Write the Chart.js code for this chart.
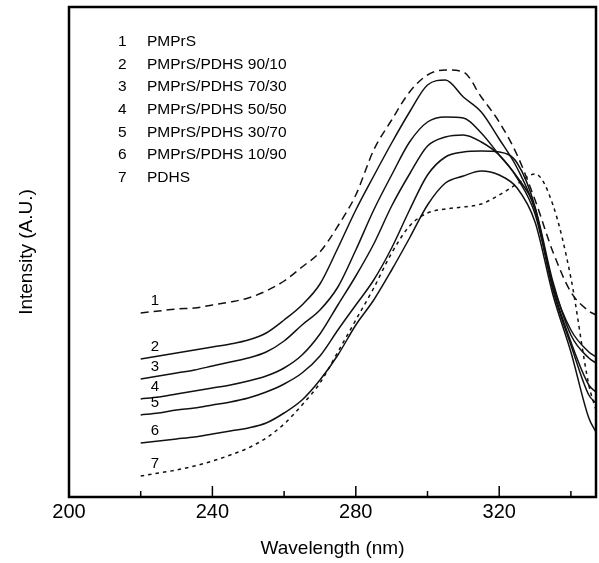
<!DOCTYPE html>
<html>
<head>
<meta charset="utf-8">
<script src="https://cdn.jsdelivr.net/npm/chart.js@4.4.0/dist/chart.umd.min.js"></script>
<style>
    html, body { margin: 0; padding: 0; background: #fff; }
    #wrap { width: 599px; height: 563px; }
</style>
</head>
<body>
<div id="wrap"><canvas id="spectraChart" width="599" height="563"></canvas></div>
<script>
// wavelength (nm) of the sampled points
var wavelengths = [220, 225, 230, 235, 240, 245, 250, 255, 260, 265, 270, 275, 280, 285,
    290, 295, 300, 305, 310, 315, 320, 325, 330, 335, 340, 345, 347];

// intensity (A.U.), one array per sample
var pmprs      = [184, 186, 188, 189, 192, 195, 199, 206, 216, 230, 245, 271, 302, 347, 377, 405, 422, 427, 425, 400, 375, 342, 297, 245, 205, 186, 182];
var blend9010  = [138, 141, 144, 147, 150, 153, 157, 164, 177, 192, 213, 249, 287, 321, 354, 385, 412, 417, 400, 385, 358, 329, 287, 212, 167, 145, 140];
var blend7030  = [118, 121, 124, 127, 131, 135, 139, 145, 156, 172, 187, 210, 247, 287, 322, 355, 375, 380, 379, 364, 342, 320, 289, 215, 162, 139, 134];
var blend5050  = [98, 100, 103, 106, 109, 112, 116, 121, 129, 142, 163, 192, 221, 253, 291, 323, 351, 360, 362, 355, 342, 319, 283, 209, 155, 112, 105];
var blend3070  = [82, 84, 87, 89, 92, 95, 99, 105, 113, 124, 141, 167, 192, 217, 249, 287, 322, 340, 345, 346, 345, 334, 290, 207, 152, 102, 94];
var blend1090  = [54, 56, 58, 60, 63, 66, 69, 74, 84, 97, 117, 142, 172, 197, 227, 259, 292, 314, 321, 326, 322, 309, 275, 202, 145, 79, 65];
var pdhs       = [21, 24, 27, 31, 36, 42, 49, 59, 73, 92, 114, 145, 177, 209, 244, 271, 284, 288, 290, 293, 302, 313, 323, 292, 219, 112, 87];

var curveNumbers = ['1', '2', '3', '4', '5', '6', '7'];
var curveNames = ['PMPrS', 'PMPrS/PDHS 90/10', 'PMPrS/PDHS 70/30', 'PMPrS/PDHS 50/50',
    'PMPrS/PDHS 30/70', 'PMPrS/PDHS 10/90', 'PDHS'];

// x axis ticks
var tickValues = [200, 220, 240, 260, 280, 300, 320, 340];
var tickLabels = ['200', '240', '280', '320'];

var allSeries = [pmprs, blend9010, blend7030, blend5050, blend3070, blend1090, pdhs];
var dashes = [[8, 5], [], [], [], [], [], [3.5, 4]];

function toPoints(values) {
    return values.map(function (v, i) { return { x: wavelengths[i], y: v }; });
}

var datasets = allSeries.map(function (values, i) {
    return {
        label: curveNames[i],
        data: toPoints(values),
        borderColor: '#111',
        borderWidth: 1.5,
        borderDash: dashes[i],
        pointRadius: 0,
        fill: false,
        cubicInterpolationMode: 'monotone'
    };
});

// frame, inward tick marks, numbered legend and curve numbers
var decorations = {
    id: 'decorations',
    afterDraw: function (chart) {
        var ctx = chart.ctx;
        var area = chart.chartArea;
        var xs = chart.scales.x;
        ctx.save();
        ctx.strokeStyle = '#000';

        ctx.lineWidth = 1.5;
        tickValues.forEach(function (v) {
            var px = xs.getPixelForValue(v);
            var len = tickLabels.indexOf(String(v)) >= 0 ? 11 : 6;
            ctx.beginPath();
            ctx.moveTo(px, area.bottom);
            ctx.lineTo(px, area.bottom - len);
            ctx.stroke();
        });

        ctx.lineWidth = 2.5;
        ctx.strokeRect(area.left, area.top, area.right - area.left, area.bottom - area.top);

        ctx.fillStyle = '#000';
        ctx.textBaseline = 'middle';
        ctx.font = '15.5px "Liberation Sans", Arial, sans-serif';
        curveNumbers.forEach(function (n, i) {
            var rowY = 42 + i * 22.6;
            ctx.textAlign = 'left';
            ctx.fillText(n, 118, rowY);
            ctx.fillText(curveNames[i], 147, rowY);
        });

        ctx.font = '15px "Liberation Sans", Arial, sans-serif';
        ctx.textAlign = 'center';
        chart.data.datasets.forEach(function (ds, i) {
            var meta = chart.getDatasetMeta(i);
            var first = meta.data[0];
            ctx.fillText(curveNumbers[i], xs.getPixelForValue(224), first.y - 12);
        });
        ctx.restore();
    }
};

var ctx = document.getElementById('spectraChart').getContext('2d');
var spectraChart = new Chart(ctx, {
    type: 'line',
    data: { datasets: datasets },
    options: {
        responsive: false,
        animation: false,
        layout: { padding: { top: 7, right: 1, left: 0, bottom: 0 } },
        plugins: {
            legend: { display: false },
            tooltip: { enabled: false }
        },
        scales: {
            x: {
                type: 'linear',
                min: 200,
                max: 347,
                grid: { display: false, drawTicks: false },
                border: { display: false },
                ticks: {
                    stepSize: 20,
                    padding: 3,
                    color: '#000',
                    maxRotation: 0,
                    font: { size: 20, family: '"Liberation Sans", Arial, sans-serif' },
                    callback: function (v) {
                        return tickLabels.indexOf(String(v)) >= 0 ? String(v) : '';
                    }
                },
                title: {
                    display: true,
                    text: 'Wavelength (nm)',
                    color: '#000',
                    font: { size: 19, family: '"Liberation Sans", Arial, sans-serif' },
                    padding: { top: 0, bottom: 3 }
                },
                afterFit: function (scale) { scale.height = 66; }
            },
            y: {
                min: 0,
                max: 490,
                grid: { display: false, drawTicks: false },
                border: { display: false },
                ticks: { display: false },
                title: {
                    display: true,
                    text: 'Intensity (A.U.)',
                    color: '#000',
                    font: { size: 19, family: '"Liberation Sans", Arial, sans-serif' },
                    padding: { top: 15, bottom: 0 }
                },
                afterFit: function (scale) { scale.width = 69; }
            }
        }
    },
    plugins: [decorations]
});
</script>
</body>
</html>
